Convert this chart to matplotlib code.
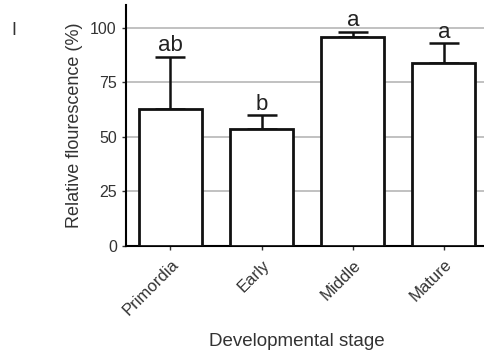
import matplotlib
matplotlib.use("Agg")
import matplotlib.pyplot as plt
import matplotlib.transforms as mtransforms

plt.rcParams["font.family"] = ["Liberation Sans", "DejaVu Sans"]

stages = ["Primordia", "Early", "Middle", "Mature"]
means = [62.8, 53.6, 95.9, 84.0]
errors = [23.9, 6.4, 2.3, 9.0]
letters = ["ab", "b", "a", "a"]
yticks = [0, 25, 50, 75, 100]

fig = plt.figure(figsize=(4.84, 3.55), dpi=100)
ax = fig.add_axes([0.26, 0.307, 0.74, 0.679])

x = list(range(len(stages)))
ax.bar(x, means, width=0.69, color="white", edgecolor="#111111", linewidth=2, zorder=3)
ax.errorbar(x, means, yerr=[[0]*len(errors), errors], fmt="none", ecolor="#111111",
            elinewidth=1.8, capsize=11, capthick=1.8, zorder=2)
for xi, m, e, l in zip(x, means, errors, letters):
    ax.text(xi, m + e + 0.2, l, ha="center", va="bottom", fontsize=16, color="#222222")

ax.set_xlim(-0.49, 3.44)
ax.set_ylim(0, 110.5)
ax.set_yticks(yticks)
ax.set_yticklabels([str(v) for v in yticks], fontsize=11.5, color="#333333")
ax.set_xticks(x)
ax.set_xticklabels(stages, rotation=45, ha="right", rotation_mode="anchor", fontsize=12, color="#333333")
offset = mtransforms.ScaledTranslation(-4/72, 0, fig.dpi_scale_trans)
for lbl in ax.get_xticklabels():
    lbl.set_transform(lbl.get_transform() + offset)
ax.yaxis.grid(True, color="#b0b0b0", linewidth=1.1, zorder=0)
ax.spines["top"].set_visible(False)
ax.spines["right"].set_visible(False)
ax.spines["left"].set_linewidth(1.5)
ax.spines["bottom"].set_linewidth(1.5)
ax.tick_params(axis="both", length=3, width=1, color="#333333")
ax.tick_params(axis="x", pad=5)
ax.set_ylabel("Relative flourescence (%)", fontsize=13, color="#333333", labelpad=5)
ax.set_xlabel("Developmental stage", fontsize=13.5, color="#333333", labelpad=10)
ax.xaxis.set_label_coords(0.478, -0.36)
fig.text(0.029, 0.913, "I", fontsize=13, color="#333333", ha="center", va="center")

fig.savefig("out.png", dpi=100)
